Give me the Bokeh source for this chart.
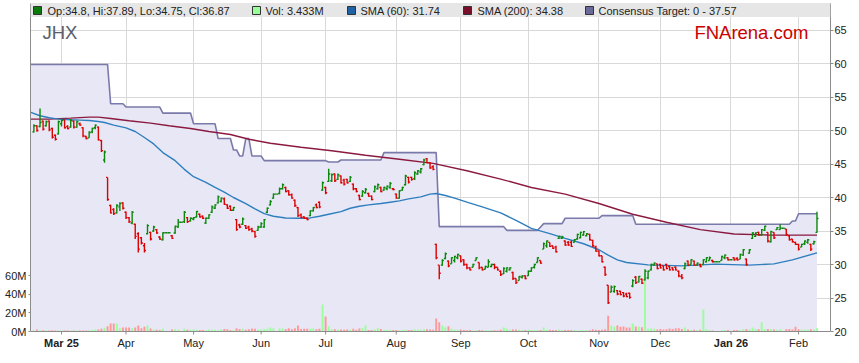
import pandas as pd
from bokeh.plotting import figure
from bokeh.models import Range1d, LinearAxis, FixedTicker, BoxAnnotation, PrintfTickFormatter, Span
from bokeh.core.properties import value
from bokeh.embed import file_html
from bokeh.resources import INLINE

# ------------------------------------------------------------------ data
# one slot per weekday (ASX holidays appear as flat bars)
slots = pd.bdate_range("2025-02-18", "2026-02-10")
ticker_name = "JHX"
site_name = "FNArena.com"
month_labels = ["Mar 25", "Apr", "May", "Jun", "Jul", "Aug", "Sep", "Oct", "Nov", "Dec", "Jan 26", "Feb"]
bold_labels = ["Mar 25", "Jan 26"]

opens = [
    49.8, 50.7, 50.6, 51.4, 50.7, 51.4, 50.3, 49.3, 49.5, 51.0,
    51.6, 50.6, 50.5, 51.4, 50.5, 51.0, 50.4, 49.1, 48.9, 49.8,
    50.4, 50.5, 48.5, 45.6, 43.0, 38.8, 38.2, 37.7, 38.6, 39.2,
    37.8, 37.0, 36.2, 36.0, 34.6, 34.0, 32.8, 34.6, 34.8, 35.0,
    35.2, 34.1, 33.7, 34.75, 34.75, 34.3, 34.7, 35.6, 36.3, 36.4,
    37.0, 36.5, 36.8, 37.1, 37.5, 37.2, 36.2, 36.9, 37.8, 38.4,
    39.2, 39.4, 39.8, 38.9, 38.7, 38.1, 36.7, 35.9, 36.0, 35.8,
    35.6, 35.3, 34.9, 35.1, 35.6, 35.6, 37.8, 38.9, 39.9, 40.5,
    40.6, 41.3, 41.5, 41.0, 40.4, 39.6, 38.5, 37.4, 37.1, 36.9,
    37.3, 38.0, 38.9, 39.3, 41.1, 41.5, 42.4, 42.5, 43.5, 42.7,
    43.2, 42.6, 42.7, 42.4, 42.0, 41.3, 40.3, 40.2, 40.7, 40.6,
    40.2, 40.9, 41.3, 41.5, 41.1, 41.3, 41.5, 41.3, 40.5, 39.9,
    41.1, 41.9, 43.0, 43.0, 42.8, 43.5, 43.8, 44.9, 45.8, 45.2,
    44.6, 33.0, 29.9, 29.9, 30.9, 30.5, 30.1, 30.6, 31.0, 31.3,
    30.7, 30.0, 29.5, 29.6, 30.6, 30.3, 29.6, 29.3, 29.6, 29.7,
    30.0, 29.6, 29.0, 28.6, 29.0, 29.2, 28.8, 27.9, 27.6, 28.1,
    28.3, 28.3, 29.0, 29.6, 30.3, 30.6, 32.3, 32.8, 33.3, 32.8,
    32.6, 33.9, 33.9, 33.5, 33.3, 33.3, 33.3, 33.8, 34.0, 34.4,
    34.3, 34.5, 33.6, 32.6, 32.0, 31.3, 29.6, 26.9, 25.9, 26.0,
    26.1, 26.0, 25.8, 25.6, 25.7, 26.8, 28.1, 27.4, 27.8, 27.7,
    28.0, 29.2, 29.9, 30.1, 30.0, 29.8, 30.0, 29.7, 29.5, 29.6,
    29.0, 28.2, 29.4, 30.5, 30.0, 30.5, 29.9, 30.0, 30.0, 30.4,
    30.6, 30.6, 30.4, 30.4, 30.6, 31.0, 31.0, 30.7, 31.0, 30.9,
    30.8, 31.4, 30.8, 31.7, 33.9, 34.2, 34.8, 34.4, 35.1, 34.8,
    33.4, 34.8, 35.2, 35.2, 35.4, 35.3, 34.3, 33.8, 33.3, 33.0,
    32.6, 33.1, 33.3, 33.0, 33.1, 34.8,
]
highs = [
    50.95, 50.8, 53.3, 51.5, 51.5, 51.5, 50.4, 49.4, 51.5, 51.7,
    51.6, 50.8, 51.7, 51.5, 51.45, 51.2, 50.5, 49.2, 49.9, 50.4,
    50.9, 50.6, 48.6, 47.0, 43.0, 38.9, 38.4, 39.0, 39.3, 39.3,
    37.9, 37.1, 38.0, 36.1, 34.8, 34.1, 33.2, 36.0, 34.9, 35.8,
    35.3, 34.2, 34.8, 34.75, 34.75, 34.4, 35.8, 36.8, 36.3, 38.0,
    37.1, 37.0, 37.1, 38.0, 37.6, 37.3, 37.0, 37.5, 38.8, 39.0,
    40.3, 40.0, 40.0, 39.0, 38.8, 38.6, 36.8, 36.1, 37.0, 35.9,
    35.8, 35.5, 35.05, 35.8, 36.3, 36.8, 38.5, 39.6, 40.6, 40.5,
    41.5, 42.1, 41.6, 41.1, 40.6, 39.7, 38.6, 37.6, 37.2, 37.0,
    38.1, 38.6, 39.1, 39.4, 42.4, 41.6, 44.3, 43.6, 43.6, 43.6,
    43.3, 42.8, 42.8, 43.2, 42.1, 41.4, 40.4, 41.1, 41.4, 40.7,
    40.3, 41.8, 42.1, 41.6, 41.6, 41.8, 42.3, 41.4, 40.6, 41.1,
    41.6, 43.4, 43.1, 43.1, 43.9, 44.1, 44.4, 45.8, 45.9, 45.3,
    44.8, 33.1, 29.9, 30.8, 31.8, 30.6, 31.1, 31.3, 31.6, 31.3,
    30.8, 30.1, 29.6, 30.1, 31.1, 30.3, 29.6, 29.8, 30.8, 30.1,
    30.1, 29.6, 29.1, 29.6, 29.6, 29.6, 28.9, 27.9, 28.3, 28.4,
    28.4, 29.1, 29.6, 30.1, 31.1, 30.6, 33.3, 33.6, 33.3, 32.8,
    32.8, 34.3, 34.3, 33.6, 33.5, 33.6, 33.8, 34.6, 34.9, 35.0,
    34.7, 34.6, 33.7, 32.8, 32.1, 31.3, 29.7, 26.9, 26.85, 26.85,
    26.2, 26.1, 25.9, 25.8, 25.8, 27.8, 28.3, 28.3, 27.9, 29.3,
    29.1, 30.1, 30.3, 30.1, 30.1, 29.8, 30.1, 29.8, 29.6, 29.7,
    29.1, 28.6, 30.3, 30.6, 30.8, 30.6, 30.3, 30.1, 30.8, 31.1,
    31.2, 30.7, 30.4, 30.4, 31.3, 31.5, 31.1, 30.7, 31.1, 31.1,
    31.6, 32.3, 30.9, 32.3, 34.8, 34.8, 34.9, 35.3, 35.8, 34.8,
    35.05, 34.8, 35.6, 36.0, 35.4, 35.3, 34.4, 33.8, 33.4, 33.1,
    33.1, 33.6, 33.8, 33.1, 33.55, 37.89,
]
lows = [
    49.7, 49.8, 50.5, 50.0, 50.6, 49.9, 48.8, 48.5, 49.4, 50.6,
    50.3, 50.2, 50.4, 50.3, 50.4, 50.7, 49.0, 48.7, 48.9, 49.6,
    50.2, 48.5, 46.8, 45.2, 39.5, 37.6, 37.4, 37.6, 38.0, 38.2,
    36.8, 36.2, 36.0, 33.8, 31.8, 33.0, 31.8, 34.5, 33.6, 34.9,
    34.6, 33.7, 33.6, 34.75, 34.75, 33.8, 34.6, 35.5, 36.3, 36.2,
    36.2, 36.4, 36.6, 37.0, 37.0, 36.8, 36.05, 36.8, 37.7, 38.3,
    39.1, 39.3, 38.9, 38.3, 38.0, 38.0, 35.05, 35.4, 35.9, 35.3,
    35.05, 34.8, 34.0, 35.05, 35.5, 35.5, 37.7, 38.8, 39.8, 40.5,
    40.5, 41.2, 40.8, 40.3, 39.8, 38.6, 37.1, 36.9, 36.8, 36.6,
    37.2, 37.9, 38.4, 38.4, 41.0, 40.5, 42.3, 42.3, 42.3, 42.6,
    42.1, 41.8, 42.1, 42.3, 41.1, 40.8, 39.6, 40.1, 40.6, 40.1,
    39.6, 40.8, 41.2, 40.8, 41.0, 41.1, 41.3, 41.1, 39.8, 39.8,
    41.0, 41.8, 42.1, 42.5, 42.6, 43.4, 43.6, 44.8, 45.1, 44.3,
    44.05, 30.8, 27.8, 29.8, 30.8, 29.6, 30.1, 30.3, 30.8, 30.3,
    29.8, 29.3, 29.1, 29.6, 30.6, 29.3, 29.1, 29.3, 29.6, 29.6,
    29.3, 29.1, 28.3, 28.6, 28.8, 29.1, 27.7, 27.1, 27.6, 27.9,
    27.8, 28.3, 28.9, 29.4, 30.3, 30.1, 32.3, 32.5, 32.6, 32.3,
    31.8, 33.8, 33.8, 32.8, 32.8, 32.6, 33.3, 33.7, 33.9, 34.3,
    34.2, 33.6, 32.6, 31.9, 31.2, 30.3, 28.3, 24.1, 25.85, 25.8,
    25.4, 25.4, 25.1, 25.1, 24.9, 26.6, 27.1, 27.3, 27.1, 27.6,
    27.8, 29.1, 29.8, 29.3, 29.4, 29.1, 29.3, 29.1, 29.1, 29.1,
    28.1, 27.8, 29.3, 29.8, 30.0, 29.8, 29.8, 29.6, 30.0, 30.3,
    30.6, 30.3, 30.4, 30.4, 30.6, 30.8, 30.6, 30.7, 30.6, 30.6,
    30.8, 31.3, 29.8, 31.6, 33.8, 34.1, 34.3, 34.3, 35.0, 33.3,
    33.3, 33.8, 35.2, 35.2, 35.4, 34.3, 33.6, 33.3, 32.9, 32.1,
    32.6, 32.9, 33.1, 32.0, 33.0, 34.75,
]
closes = [
    50.7, 50.0, 51.2, 50.2, 51.3, 50.1, 49.0, 48.7, 51.3, 51.5,
    50.4, 50.3, 51.5, 50.5, 51.3, 50.8, 49.2, 48.8, 49.7, 50.3,
    50.8, 48.6, 47.0, 46.8, 39.7, 37.7, 37.6, 38.8, 39.1, 38.4,
    37.0, 36.4, 37.8, 34.2, 32.3, 33.2, 32.1, 35.8, 33.8, 35.6,
    34.7, 33.8, 34.75, 34.75, 34.75, 33.9, 35.7, 36.3, 36.3, 37.8,
    36.4, 36.9, 37.0, 37.9, 37.1, 36.9, 36.9, 37.4, 38.6, 38.9,
    40.1, 39.9, 39.0, 38.4, 38.1, 38.5, 35.2, 35.6, 36.8, 35.4,
    35.2, 35.0, 34.2, 35.6, 36.1, 36.7, 38.4, 39.4, 40.5, 40.5,
    41.3, 41.9, 40.9, 40.4, 39.9, 38.8, 37.3, 37.0, 36.9, 36.7,
    38.0, 38.5, 38.5, 38.6, 42.2, 40.7, 43.5, 43.4, 42.5, 43.4,
    42.2, 42.0, 42.2, 43.0, 41.3, 40.9, 39.7, 40.9, 41.2, 40.2,
    39.7, 41.6, 41.9, 40.9, 41.5, 41.7, 42.1, 41.2, 39.9, 41.0,
    41.5, 43.2, 42.3, 42.7, 43.7, 44.0, 44.3, 45.6, 45.2, 44.4,
    44.2, 31.0, 28.7, 30.6, 31.6, 29.8, 31.0, 31.2, 31.5, 30.5,
    30.0, 29.5, 29.2, 30.0, 31.0, 29.5, 29.2, 29.7, 30.4, 30.0,
    29.6, 29.2, 28.5, 29.4, 29.5, 29.5, 27.9, 27.3, 28.2, 28.3,
    27.9, 29.0, 29.5, 30.0, 31.0, 30.2, 33.1, 33.5, 32.7, 32.4,
    31.9, 34.2, 34.1, 32.9, 32.9, 32.7, 33.7, 34.5, 34.8, 34.9,
    34.6, 33.7, 32.8, 32.0, 31.3, 30.4, 28.5, 24.3, 26.6, 26.7,
    25.6, 25.5, 25.3, 25.2, 25.1, 27.6, 27.3, 28.2, 27.2, 29.0,
    29.0, 30.0, 30.2, 29.4, 29.5, 29.2, 29.4, 29.2, 29.2, 29.2,
    28.3, 28.0, 30.1, 29.9, 30.7, 29.9, 30.2, 29.7, 30.7, 31.0,
    31.0, 30.4, 30.4, 30.4, 31.2, 31.4, 30.7, 30.7, 30.7, 30.7,
    31.5, 32.2, 30.0, 32.2, 34.7, 34.7, 34.4, 35.2, 35.7, 33.5,
    34.9, 34.0, 35.5, 35.4, 35.4, 34.5, 33.7, 33.4, 33.0, 32.3,
    33.0, 33.5, 33.7, 32.3, 33.4, 36.87,
]
volumes_m = [
    1.4, 2.1, 1.2, 1.3, 1.2, 1.1, 1.3, 1.2, 1.0, 1.1,
    1.0, 1.2, 1.0, 1.1, 1.0, 1.2, 1.1, 1.0, 1.3, 1.6,
    2.1, 2.1, 2.9, 3.9, 5.7, 8.6, 8.6, 8.6, 3.6, 4.3,
    4.3, 4.3, 3.6, 4.3, 6.4, 3.6, 5.0, 6.4, 3.2, 2.1,
    1.8, 1.5, 2.9, 0.0, 0.0, 2.1, 2.3, 2.0, 0.0, 2.9,
    2.0, 1.8, 2.1, 2.0, 1.6, 1.5, 1.4, 2.1, 1.8, 1.5,
    1.6, 2.2, 2.6, 2.5, 1.6, 1.5, 3.6, 2.8, 3.0, 2.0,
    2.4, 3.2, 2.9, 1.8, 2.1, 2.6, 3.0, 4.3, 3.6, 0.0,
    3.2, 3.3, 2.4, 3.6, 2.5, 3.6, 6.4, 2.8, 3.0, 3.0,
    2.9, 3.2, 2.5, 3.0, 29.0, 16.0, 5.7, 2.5, 2.4, 2.0,
    2.2, 1.8, 2.1, 1.9, 2.9, 1.8, 3.2, 3.4, 6.4, 1.7,
    1.6, 2.1, 3.5, 2.6, 1.6, 1.5, 1.8, 1.5, 1.6, 1.4,
    1.7, 2.2, 1.6, 1.5, 2.3, 2.0, 1.9, 2.3, 2.5, 2.2,
    2.0, 13.9, 10.0, 6.4, 4.6, 5.7, 2.9, 2.0, 1.8, 2.1,
    1.6, 1.4, 1.5, 1.2, 1.4, 1.5, 1.3, 1.4, 1.2, 1.6,
    1.3, 1.1, 1.9, 4.3, 3.0, 2.0, 2.2, 2.1, 1.8, 1.5,
    1.7, 2.0, 1.6, 1.4, 1.6, 1.5, 4.3, 2.0, 1.8, 1.5,
    1.6, 2.1, 1.6, 1.5, 1.7, 1.4, 1.5, 1.2, 1.6, 1.3,
    1.5, 1.4, 2.3, 1.8, 1.6, 1.9, 2.4, 17.0, 6.4, 5.0,
    6.4, 5.0, 5.4, 4.3, 4.3, 8.6, 5.4, 5.0, 4.6, 63.0,
    2.9, 3.2, 2.9, 2.2, 2.6, 2.1, 2.4, 3.2, 2.6, 3.6,
    3.6, 2.8, 4.3, 2.2, 1.8, 2.0, 1.7, 1.9, 23.6, 2.5,
    1.5, 1.2, 0.0, 0.0, 1.4, 1.5, 1.6, 0.0, 1.5, 1.7,
    1.6, 2.4, 2.5, 2.1, 4.3, 2.6, 2.4, 10.0, 2.3, 2.8,
    2.6, 2.2, 2.0, 2.3, 0.0, 2.4, 2.6, 2.2, 5.0, 2.5,
    2.1, 1.8, 2.0, 2.3, 2.1, 3.433,
]

# moving averages, read at knots (slot index, value)
sma60_at = [-1, 2, 5, 8, 12, 15, 18, 21, 23, 26, 30, 33, 36, 39, 42, 46, 49, 52, 56, 59,
            62, 65, 69, 72, 75, 78, 82, 86, 90, 93, 96, 100, 103, 106, 109, 113, 116, 119, 122, 126,
            129, 131, 134, 137, 141, 146, 152, 157, 162, 168, 173, 179, 184, 187, 190, 193, 200, 211, 222, 233,
            241, 247, 255]
sma60 = [52.7, 52.2, 51.9, 51.7, 51.6, 51.55, 51.5, 51.35, 51.2, 50.8, 50.4, 49.85, 48.96, 48.0, 46.7, 45.5, 44.2, 43.1, 42.25, 41.5,
         40.8, 40.0, 39.1, 38.3, 37.6, 37.2, 36.95, 36.9, 36.95, 37.2, 37.5, 37.9, 38.4, 38.7, 38.9, 39.1, 39.3, 39.5, 39.8, 40.1,
         40.5, 40.6, 40.3, 39.9, 39.3, 38.6, 37.7, 36.6, 35.4, 34.6, 33.9, 33.1, 32.2, 31.4, 30.7, 30.3, 29.95, 29.8, 30.05, 29.9,
         30.1, 30.7, 31.74]
sma200_at = [-1, 5, 12, 18, 21, 25, 31, 38, 44, 51, 57, 64, 70, 77, 87, 97, 108, 119, 130, 141,
             152, 162, 173, 184, 195, 206, 217, 228, 239, 249, 255]
sma200 = [51.7, 51.7, 51.85, 52.0, 52.0, 51.8, 51.45, 51.1, 50.7, 50.3, 49.85, 49.4, 48.7, 48.1, 47.5, 46.97, 46.3, 45.7, 45.1, 44.0,
          42.75, 41.5, 40.5, 39.1, 37.5, 36.3, 35.2, 34.55, 34.4, 34.38, 34.38]

# consensus target: value taking effect from a slot index
target_from = [0, 25, 30, 42, 52, 60, 65, 67, 69, 71, 75, 96, 100, 114, 132, 154, 165, 166, 173, 185, 196, 247, 249]
target_val = [59.85, 54.0, 53.5, 52.6, 51.0, 48.8, 47.1, 46.2, 48.8, 46.2, 45.5, 45.3, 45.6, 46.7, 35.65, 35.1, 35.6, 36.1, 36.9,
              37.3, 36.0, 36.5, 37.57]

legend_texts = ["Op:34.8, Hi:37.89, Lo:34.75, Cl:36.87", "Vol: 3.433M", "SMA (60): 31.74",
                "SMA (200): 34.38", "Consensus Target: 0 - 37.57"]
price_ticks = [20, 25, 30, 35, 40, 45, 50, 55, 60, 65]
vol_ticks = [0, 20, 40, 60]

# ------------------------------------------------------------------ styling / layout
FONT = "Liberation Sans"
GREEN, RED = "#0b870b", "#dd0000"
VGREEN, VRED = "#99ff99", "#ff9999"
C_SMA60, C_SMA200 = "#2f7fbf", "#8b1a40"
C_TGT, C_FILL = "#7a7aaa", "#e7e7f5"
C_AXIS = "#8c8c8c"
LEG_COLORS = ["#0b7a0b", "#99ff99", "#1f62a6", "#7a0f2c", "#6a6a9a"]
LEG_SQ_PX = [37, 256, 351, 467, 589]
LEG_TX_PX = [47, 265, 360, 477, 598]

FRAME_LEFT, FRAME_TOP = 30, 3
FW = 800
PLOT_H = 328                # height of the price panel
LABEL_H = 22                # strip under the price panel holding the date labels
PXU = 3.071                 # pixels per weekday slot
X0 = -1.1
X1 = X0 + FW / PXU
PRICE_BOTTOM = 20.0
PYU = 6.70                  # pixels per price unit
Y1 = PRICE_BOTTOM + PLOT_H / PYU
YB = PRICE_BOTTOM - LABEL_H / PYU
VPX = 0.93                  # pixels per million shares


def px2x(px):               # page px -> slot coordinate
    return X0 + (px - FRAME_LEFT) / PXU


def py2y(py):               # page px -> price coordinate
    return Y1 - (py - FRAME_TOP) / PYU


n = len(closes)
idx = list(range(n))
col = [GREEN if c >= o else RED for o, c in zip(opens, closes)]
vcol = [VGREEN if c >= o else VRED for o, c in zip(opens, closes)]

month_idx = []
prev = None
for i, d in enumerate(slots[:n]):
    key = (d.year, d.month)
    if key != prev:
        if i > 0:
            month_idx.append(i)
        prev = key

target = []
k = 0
for i in idx:
    while k + 1 < len(target_from) and target_from[k + 1] <= i:
        k += 1
    target.append(target_val[k])

p = figure(frame_width=FW, frame_height=PLOT_H + LABEL_H, x_range=Range1d(X0, X1), y_range=Range1d(YB, Y1),
           output_backend="svg", toolbar_location=None, y_axis_location="right",
           min_border_left=FRAME_LEFT, min_border_right=20, min_border_top=FRAME_TOP, min_border_bottom=2)
p.extra_y_ranges = {"vol": Range1d(-LABEL_H / VPX, PLOT_H / VPX)}
p.background_fill_color = "white"
p.border_fill_color = "white"
p.outline_line_color = None

# grids (hidden below the price panel by a white strip)
p.xgrid.ticker = FixedTicker(ticks=month_idx)
p.ygrid.ticker = FixedTicker(ticks=price_ticks)
for g in (p.xgrid, p.ygrid):
    g.grid_line_color = "#d9d9d9"
    g.grid_line_width = 1
p.add_layout(BoxAnnotation(top=PRICE_BOTTOM, fill_color="white", fill_alpha=1.0, line_color=None, level="underlay"))

# axes
p.xaxis.visible = False
ya = p.yaxis[0]
ya.ticker = FixedTicker(ticks=price_ticks)
ya.bounds = (PRICE_BOTTOM, Y1)
va = LinearAxis(y_range_name="vol", ticker=FixedTicker(ticks=vol_ticks),
                formatter=PrintfTickFormatter(format="%dM"), bounds=(0, PLOT_H / VPX))
p.add_layout(va, "left")
for ax in (ya, va):
    ax.axis_line_color = C_AXIS
    ax.major_tick_line_color = C_AXIS
    ax.minor_tick_line_color = None
    ax.major_tick_in = 0
    ax.major_tick_out = 3
    ax.major_label_text_font = FONT
    ax.major_label_text_font_size = "11px"
    ax.major_label_text_color = "#222222"
    ax.major_label_standoff = 2
va.major_tick_out = 2
ya.major_label_standoff = 1
p.add_layout(Span(location=Y1 - 0.5 / PYU, dimension="width", line_color="#9a9a9a", line_width=1))

# consensus area + line
tx = [X0] + idx
ty = [target[0]] + target
p.varea(x=tx, y1=[PRICE_BOTTOM] * len(tx), y2=ty, fill_color=C_FILL)

# volume
p.vbar(x=idx, top=volumes_m, bottom=0, width=0.62, y_range_name="vol", fill_color=vcol, line_color=None)

p.line(tx, ty, line_color=C_TGT, line_width=1.6)
p.line(sma200_at, sma200, line_color=C_SMA200, line_width=1.4)
p.line(sma60_at, sma60, line_color=C_SMA60, line_width=1.4)

# OHLC bars
p.segment(x0=idx, y0=lows, x1=idx, y1=highs, line_color=col, line_width=1.4)
p.segment(x0=[i - 0.5 for i in idx], y0=opens, x1=idx, y1=opens, line_color=col, line_width=1.4)
p.segment(x0=idx, y0=closes, x1=[i + 0.5 for i in idx], y1=closes, line_color=col, line_width=1.4)

# date axis: line, ticks, labels
p.segment(x0=[X0], y0=[PRICE_BOTTOM], x1=[X1], y1=[PRICE_BOTTOM], line_color=C_AXIS, line_width=1.2)
p.segment(x0=month_idx, y0=[PRICE_BOTTOM] * len(month_idx), x1=month_idx,
          y1=[PRICE_BOTTOM - 3 / PYU] * len(month_idx), line_color=C_AXIS, line_width=1)
norm = [(i, lab) for i, lab in zip(month_idx, month_labels) if lab not in bold_labels]
bold = [(i, lab) for i, lab in zip(month_idx, month_labels) if lab in bold_labels]
p.text(x=[a for a, _ in norm], y=[py2y(342)] * len(norm), text=[b for _, b in norm],
       text_font=value(FONT), text_font_size="11px", text_color="#222222",
       text_align="center", text_baseline="middle")
p.text(x=[a for a, _ in bold], y=[py2y(342)] * len(bold), text=[b for _, b in bold],
       text_font=value(FONT), text_font_size="11px", text_font_style="bold", text_color="#222222",
       text_align="center", text_baseline="middle")

# header band with legend
p.add_layout(BoxAnnotation(bottom=py2y(16.5), fill_color="#e6e6e6", fill_alpha=1.0, line_color=None))
p.scatter(x=[px2x(v) for v in LEG_SQ_PX], y=[py2y(10)] * 5, marker="square", size=8,
          fill_color=LEG_COLORS, line_color="#333333", line_width=1, level="overlay")
p.text(x=[px2x(v) for v in LEG_TX_PX], y=[py2y(10)] * 5, text=legend_texts,
       text_font=value(FONT), text_font_size="11px", text_color="#222222",
       text_baseline="middle", text_align="left", level="overlay")

# ticker and site name
p.text(x=[px2x(42)], y=[py2y(32)], text=[ticker_name], text_font=value(FONT), text_font_size="18.5px",
       text_color="#56606c", text_baseline="middle", text_align="left", level="overlay")
p.text(x=[px2x(808)], y=[py2y(32)], text=[site_name], text_font=value(FONT), text_font_size="18.5px",
       text_color="#cc0000", text_baseline="middle", text_align="right", level="overlay")

open("out.html", "w").write(file_html(p, INLINE))
